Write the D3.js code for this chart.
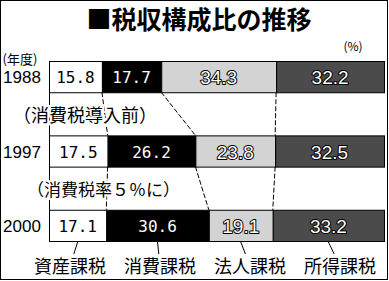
<!DOCTYPE html>
<html>
<head>
<meta charset="utf-8">
<script src="https://cdn.jsdelivr.net/npm/d3@7/dist/d3.min.js"></script>
<style>
body { margin: 0; background: #fff; }
svg { display: block; }
</style>
</head>
<body>
<svg id="chart" width="389" height="281"></svg>
<script>
// Daten
var years = ["1988", "1997", "2000"];
var categories = ["資産課税", "消費課税", "法人課税", "所得課税"];
var values1988 = [15.8, 17.7, 34.3, 32.2];
var values1997 = [17.5, 26.2, 23.8, 32.5];
var values2000 = [17.1, 30.6, 19.1, 33.2];
var notes = ["（消費税導入前）", "（消費税率５％に）"];
var titleText = "■税収構成比の推移";

var allValues = [values1988, values1997, values2000];
var fills = ["#ffffff", "#000000", "#d3d3d3", "#4b4b4b"];

var svg = d3.select("#chart");
var jp = "'Noto Sans CJK JP', sans-serif";

// Rahmen
svg.append("rect")
    .attr("x", 0.5).attr("y", 0.5)
    .attr("width", 387).attr("height", 279)
    .attr("fill", "none").attr("stroke", "#000");

// Skalen
var x = d3.scaleLinear().domain([0, 100]).range([49, 384]);
var y = d3.scaleBand().domain(years).range([61, 241]).paddingInner(0.58).paddingOuter(0);
var labelX = d3.scalePoint().domain(categories).range([70, 340]);

// Stapel bauen
var rows = years.map(function(yr, i) {
    var acc = 0;
    return allValues[i].map(function(v, j) {
        var seg = {year: yr, cat: j, value: v, x0: acc, x1: acc + v};
        acc += v;
        return seg;
    });
});

// Titel
svg.append("text")
    .attr("x", 199).attr("y", 18)
    .attr("text-anchor", "middle")
    .attr("dominant-baseline", "central")
    .style("font-family", jp).style("font-size", "25px").style("font-weight", "bold")
    .text(titleText);

svg.append("text")
    .attr("x", 20).attr("y", 58)
    .attr("text-anchor", "middle").attr("dominant-baseline", "central")
    .style("font-family", jp).style("font-size", "13px")
    .text("(年度)");

svg.append("text")
    .attr("x", 353).attr("y", 45)
    .attr("text-anchor", "middle").attr("dominant-baseline", "central")
    .style("font-family", jp).style("font-size", "12px")
    .text("(%)");

// Achse links
svg.append("line")
    .attr("x1", x(0) + 0.5).attr("x2", x(0) + 0.5)
    .attr("y1", y(years[0])).attr("y2", y(years[2]) + y.bandwidth())
    .attr("stroke", "#000");

// gestrichelte Verbindungen
for (var r = 0; r < rows.length - 1; r++) {
    for (var k = 0; k < 3; k++) {
        svg.append("line")
            .attr("x1", x(rows[r][k].x1)).attr("y1", y(years[r]) + y.bandwidth())
            .attr("x2", x(rows[r + 1][k].x1)).attr("y2", y(years[r + 1]))
            .attr("stroke", "#000").attr("stroke-width", 1)
            .attr("stroke-dasharray", "5,2");
    }
}

// Anmerkungen
notes.forEach(function(n, i) {
    var ym = (y(years[i]) + y.bandwidth() + y(years[i + 1])) / 2;
    svg.append("text")
        .attr("x", i == 0 ? 13 : 27).attr("y", ym)
        .attr("dominant-baseline", "central")
        .style("font-family", jp).style("font-size", i == 0 ? "18px" : "17px")
        .attr("fill", "#000")
        .attr("stroke", "#fff").attr("stroke-width", 4)
        .attr("paint-order", "stroke")
        .text(n);
});

// Balken
var g = svg.selectAll("g.row").data(rows).enter().append("g").attr("class", "row");

g.selectAll("rect")
    .data(function(d) { return d; })
    .enter().append("rect")
    .attr("x", function(d) { return x(d.x0) + 0.5; })
    .attr("y", function(d) { return y(d.year) + 0.5; })
    .attr("width", function(d) { return x(d.x1) - x(d.x0); })
    .attr("height", y.bandwidth())
    .attr("fill", function(d) { return fills[d.cat]; })
    .attr("stroke", "#000");

g.selectAll("text")
    .data(function(d) { return d; })
    .enter().append("text")
    .attr("x", function(d) { return x((d.x0 + d.x1) / 2); })
    .attr("y", function(d) { return y(d.year) + y.bandwidth() / 2 + 1; })
    .attr("text-anchor", "middle")
    .attr("dominant-baseline", "central")
    .style("font-family", function(d) { return d.cat < 2 ? "'DejaVu Sans Mono', monospace" : "'Liberation Sans', Arial, sans-serif"; })
    .style("font-size", function(d) { return d.cat < 2 ? "16px" : "19px"; })
    .attr("fill", function(d) { return d.cat == 0 ? "#000" : "#fff"; })
    .attr("stroke", function(d) { return d.cat >= 2 ? "#000" : "none"; })
    .attr("stroke-width", 2)
    .attr("stroke-linejoin", "round")
    .attr("paint-order", "stroke")
    .text(function(d) { return d.value.toFixed(1); });

// Jahre
svg.selectAll("text.year")
    .data(years)
    .enter().append("text")
    .attr("class", "year")
    .attr("x", 22)
    .attr("y", function(d) { return y(d) + y.bandwidth() / 2 + 1; })
    .attr("text-anchor", "middle")
    .attr("dominant-baseline", "central")
    .style("font-family", "'Liberation Sans', Arial, sans-serif")
    .style("font-size", "17px")
    .text(function(d) { return d; });

// Kategorien unten mit Linien
var lastRow = rows[rows.length - 1];
var barBottom = y(years[2]) + y.bandwidth() + 1;

svg.selectAll("line.leader")
    .data(lastRow)
    .enter().append("line")
    .attr("class", "leader")
    .attr("x1", function(d) { return x((d.x0 + d.x1) / 2); })
    .attr("y1", barBottom)
    .attr("x2", function(d) { return (x((d.x0 + d.x1) / 2) + labelX(categories[d.cat])) / 2; })
    .attr("y2", 254)
    .attr("stroke", "#000");

svg.selectAll("text.cat")
    .data(categories)
    .enter().append("text")
    .attr("class", "cat")
    .attr("x", function(d) { return labelX(d); })
    .attr("y", 265)
    .attr("text-anchor", "middle")
    .attr("dominant-baseline", "central")
    .style("font-family", jp).style("font-size", "18px")
    .text(function(d) { return d; });
</script>
</body>
</html>
